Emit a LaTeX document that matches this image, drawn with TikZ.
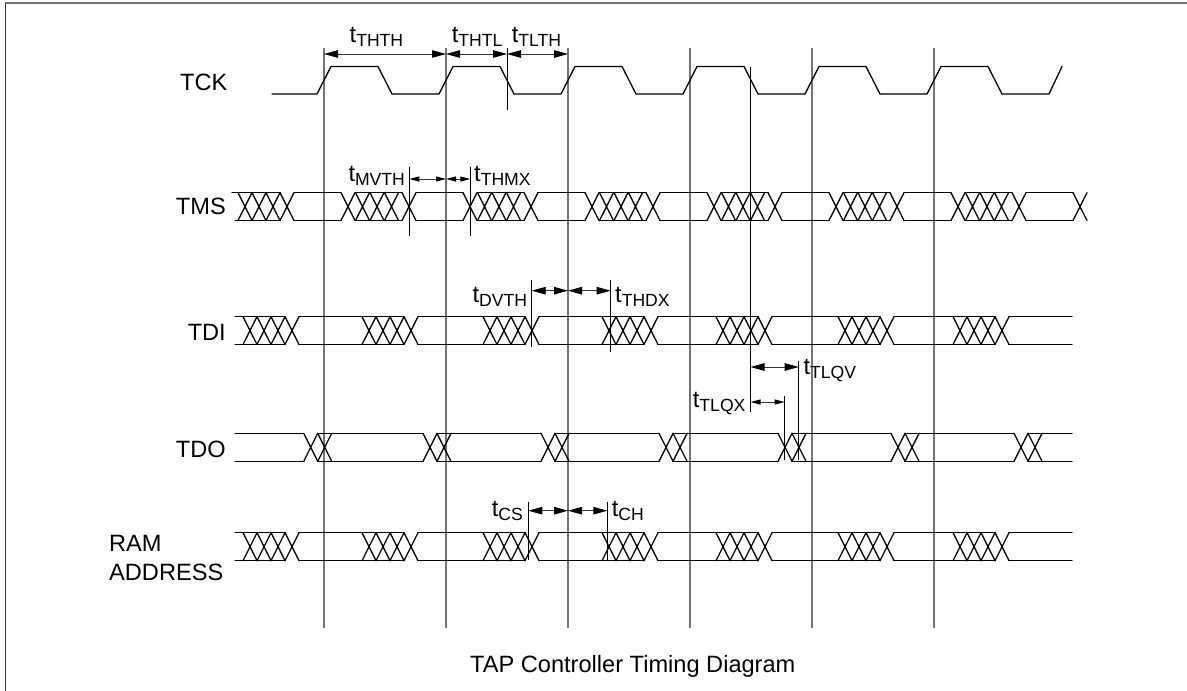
\documentclass[tikz,border=0pt]{standalone}
\usepackage{fontspec}
\setmainfont{Liberation Sans}
\usetikzlibrary{arrows.meta}
\newcommand{\lblfont}{\fontsize{23.6}{29}\selectfont}
\newcommand{\subfont}{\fontsize{17.6}{20}\selectfont}
\newcommand{\tsub}[1]{t\raisebox{-4pt}{\subfont #1}}
\tikzset{
  sigline/.style={line width=1.3pt,line cap=round,black},
  grid line/.style={line width=1.5pt,draw=black!55},
  marker/.style={line width=0.9pt,black},
  bigdim/.style={line width=0.9pt,black!80,{Triangle[length=14pt,width=7.5pt,black]}-{Triangle[length=14pt,width=7.5pt,black]}},
  smalldim/.style={line width=0.9pt,black!80,{Triangle[length=10pt,width=5pt,black]}-{Triangle[length=10pt,width=5pt,black]}},
  lbl/.style={inner sep=0pt,anchor=base west,font=\lblfont},
}
\newcommand{\xc}[3]{\draw[sigline] ({#1-7},#2)--({#1+7},#3) ({#1-7},#3)--({#1+7},#2);}
\newcommand{\hl}[4]{\draw[sigline] (#1,#3)--(#2,#3) (#1,#4)--(#2,#4);}
% bus with hatched groups ending at the listed x values (TDI and RAM ADDRESS)
\newcommand{\busrow}[2]{%
  \hl{235}{285}{#1}{#2}
  \foreach \e/\nxt in {292/404,411/525,532/644,651/758,765/880,887/995,1002/1072}{%
    \xc{\e-42}{#1}{#2}\xc{\e-28}{#1}{#2}\xc{\e-14}{#1}{#2}\xc{\e}{#1}{#2}
    \hl{\e+7}{\nxt}{#1}{#2}
  }}
\begin{document}
\begin{tikzpicture}[x=1pt,y=-1pt]
\useasboundingbox (0,0) rectangle (1187,691);
% frame
\draw[line width=2pt,draw=black!55] (5,2.5)--(1187,2.5);
\draw[line width=1.3pt,draw=black!80] (5.5,2.5)--(5.5,691);
% clock grid
\foreach \x in {324,446,568,690,812,934}{\draw[grid line] (\x,48)--(\x,628);}
% TCK
\draw[sigline] (272,94)
  \foreach \k in {0,...,5}{ -- ({317+122*\k},94) -- ({331+122*\k},66.5) -- ({378+122*\k},66.5) -- ({392+122*\k},94)}
  -- (1049,94) -- (1062,66.5);
% TMS
\def\tt{192.7}\def\tb{220.5}
\draw[sigline] (232,\tt)--(280,\tt) (235,\tb)--(280,\tb);
\foreach \c in {245,259,273,287}{\xc{\c}{\tt}{\tb}}
\hl{294}{341}{\tt}{\tb}
\foreach \k in {0,...,5}{%
  \pgfmathsetmacro{\s}{348+122*\k}
  \xc{\s}{\tt}{\tb}\xc{\s+14.5}{\tt}{\tb}\xc{\s+29}{\tt}{\tb}\xc{\s+43.5}{\tt}{\tb}\xc{\s+61}{\tt}{\tb}
  \hl{\s+7}{\s+54}{\tt}{\tb}
  \hl{\s+68}{\s+115}{\tt}{\tb}
}
\xc{1080}{\tt}{\tb}
% TDI, RAM ADDRESS
\busrow{316.7}{344.5}
\busrow{532.7}{560.7}
% TDO
\def\ot{433.3}\def\ob{461.3}
\hl{235}{304}{\ot}{\ob}
\foreach \c/\nxt in {310.7/423,430/541,548/659,666/778,785/891,898/1014,1021/1072}{%
  \xc{\c}{\ot}{\ob}\xc{\c+14}{\ot}{\ob}
  \hl{\c+7}{\nxt}{\ot}{\ob}
}
% signal names
\node[lbl] (tck) at (180,90) {TCK};
\node[inner sep=0pt,anchor=base east,font=\lblfont] (tms) at (226,214.5) {TMS};
\node[inner sep=0pt,anchor=base east,font=\lblfont] (tdi) at (226,340.7) {TDI};
\node[inner sep=0pt,anchor=base east,font=\lblfont] (tdo) at (226,457) {TDO};
\node[lbl] (ram) at (109,551) {RAM};
\node[lbl] (addr) at (109,580.7) {ADDRESS};
% TCK dimensions
\coordinate (dA) at (324,54); \coordinate (dB) at (446,54);
\coordinate (dC) at (507,54); \coordinate (dD) at (568,54);
\draw[marker] (507,48)--(507,110);
\draw[bigdim] (dA)--(dB);
\draw[bigdim] (dB)--(dC);
\draw[bigdim] (dC)--(dD);
\node[lbl] (thth) at (349.5,42.7) {\tsub{THTH}};
\node[lbl] (thtl) at (451.7,42.7) {\tsub{THTL}};
\node[lbl] (tlth) at (511.7,42.7) {\tsub{TLTH}};
% TMS dimensions
\draw[marker] (409.3,167)--(409.3,236) (470.3,167)--(470.3,236);
\coordinate (mA) at (409.3,179); \coordinate (mB) at (446,179); \coordinate (mC) at (470.3,179);
\draw[smalldim] (mA)--(mB);
\draw[smalldim] (mB)--(mC);
\node[lbl] (mvth) at (348.3,181) {\tsub{MVTH}};
\node[lbl] (thmx) at (474,181) {\tsub{THMX}};
% TDI dimensions
\draw[marker] (531.7,280)--(531.7,346.7) (610.7,280)--(610.7,351.7);
\coordinate (iA) at (531.7,290.7); \coordinate (iB) at (568,290.7); \coordinate (iC) at (610.7,290.7);
\draw[bigdim] (iA)--(iB);
\draw[bigdim] (iB)--(iC);
\node[lbl] (dvth) at (472.3,302) {\tsub{DVTH}};
\node[lbl] (thdx) at (615,302) {\tsub{THDX}};
% TDO dimensions
\draw[marker] (750.5,67)--(750.5,412);
\draw[marker] (798.7,360.7)--(798.7,460) (784.7,395.7)--(784.7,460);
\coordinate (oA) at (750.5,367); \coordinate (oB) at (798.7,367);
\coordinate (oC) at (750.5,402); \coordinate (oD) at (784.7,402);
\draw[bigdim] (oA)--(oB);
\draw[smalldim] (oC)--(oD);
\node[lbl] (tlqv) at (803.3,374.3) {\tsub{TLQV}};
\node[lbl] (tlqx) at (692.7,407.7) {\tsub{TLQX}};
% RAM dimensions
\draw[marker] (528.3,501.7)--(528.3,560) (607.3,501.7)--(607.3,560);
\coordinate (rA) at (528.3,510.7); \coordinate (rB) at (568,510.7); \coordinate (rC) at (607.3,510.7);
\draw[bigdim] (rA)--(rB);
\draw[bigdim] (rB)--(rC);
\node[lbl] (cs) at (491.7,516) {\tsub{CS}};
\node[lbl] (ch) at (611.7,516) {\tsub{CH}};
% caption
\node[lbl] (cap) at (470,672) {TAP Controller Timing Diagram};
\end{tikzpicture}
\end{document}
